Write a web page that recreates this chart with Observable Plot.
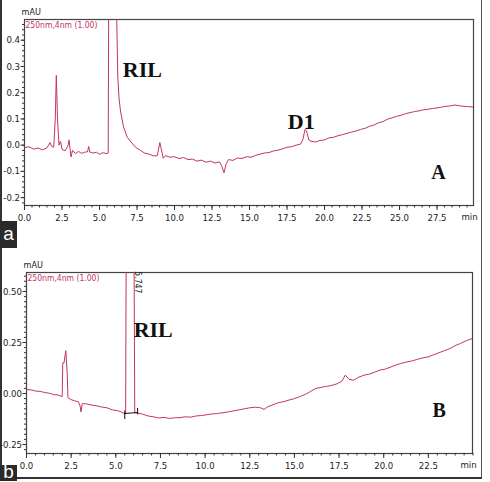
<!DOCTYPE html>
<html>
<head>
<meta charset="utf-8">
<script src="https://cdn.jsdelivr.net/npm/d3@7"></script>
<script src="https://cdn.jsdelivr.net/npm/@observablehq/plot@0.6"></script>
<style>
  html, body { margin: 0; padding: 0; background: #fff; }
  #page { position: relative; width: 490px; height: 482px; overflow: hidden; background: #fff; }
  #outline { position: absolute; left: 0; top: -2px; width: 482px; height: 481px;
             border-left: 2px solid #333; border-right: 1px solid #555; border-bottom: 2px solid #333; box-sizing: border-box; }
  .panel { position: absolute; left: 0; }
  .tag { position: absolute; left: 0; width: 17px; background: #2a2a2a; color: #fff;
         font: 19px "Liberation Sans", Arial, sans-serif; text-align: center; }
  svg text { font-stretch: condensed; }
</style>
</head>
<body>
<div id="page">
  <div id="outline"></div>
  <div id="panelA" class="panel" style="top:0px"></div>
  <div id="panelB" class="panel" style="top:250px"></div>
  <div class="tag" style="top:221px;height:27px;line-height:25px">a</div>
  <div class="tag" style="top:465px;height:16px;line-height:14px">b</div>
</div>
<script>
// Chromatogram A: time (min) and absorbance (mAU)
const timeA = [0.0, 0.3, 0.6, 0.9, 1.2, 1.5, 1.7, 1.8, 1.95, 2.05, 2.12, 2.2, 2.3, 2.4, 2.5, 2.7, 2.9, 2.97, 3.05, 3.1, 3.2, 3.4, 3.6, 3.8, 4.0, 4.2, 4.28, 4.35, 4.6, 4.8, 5.0, 5.2, 5.5, 5.58, 5.62, 6.1, 6.15, 6.22, 6.3, 6.4, 6.6, 6.85, 7.1, 7.4, 7.73, 8.0, 8.3, 8.6, 8.85, 8.95, 9.02, 9.1, 9.25, 9.4, 9.7, 10.0, 10.3, 10.6, 10.9, 11.2, 11.5, 11.8, 12.1, 12.4, 12.7, 13.0, 13.15, 13.3, 13.45, 13.6, 13.9, 14.2, 14.5, 14.8, 15.1, 15.4, 15.7, 16.0, 16.3, 16.6, 16.9, 17.2, 17.5, 17.8, 18.1, 18.4, 18.55, 18.7, 18.8, 18.95, 19.1, 19.4, 19.7, 20.0, 20.3, 20.6, 20.9, 21.2, 21.5, 21.8, 22.1, 22.4, 22.7, 23.0, 23.3, 23.6, 23.9, 24.2, 24.5, 24.8, 25.1, 25.4, 25.7, 26.0, 26.3, 26.6, 26.9, 27.2, 27.5, 27.8, 28.1, 28.4, 28.7, 29.0, 29.3, 29.6, 29.93];
const mauA = [-0.010, -0.006, -0.015, -0.011, -0.018, -0.010, 0.010, -0.004, -0.008, 0.10, 0.266, 0.10, 0.000, 0.015, -0.015, -0.022, -0.002, 0.020, -0.020, -0.045, -0.020, -0.032, -0.024, -0.031, -0.027, -0.025, -0.005, -0.026, -0.030, -0.027, -0.035, -0.029, -0.032, -0.030, 0.70, 0.70, 0.47, 0.26, 0.18, 0.13, 0.07, 0.03, 0.012, -0.008, -0.020, -0.030, -0.034, -0.041, -0.040, -0.012, 0.010, -0.010, -0.050, -0.040, -0.046, -0.044, -0.051, -0.047, -0.055, -0.053, -0.061, -0.057, -0.065, -0.061, -0.068, -0.064, -0.080, -0.105, -0.070, -0.055, -0.058, -0.049, -0.051, -0.044, -0.046, -0.039, -0.034, -0.030, -0.028, -0.022, -0.019, -0.014, -0.008, -0.006, 0.000, 0.004, 0.020, 0.060, 0.055, 0.020, 0.015, 0.012, 0.018, 0.020, 0.028, 0.030, 0.036, 0.040, 0.045, 0.050, 0.054, 0.060, 0.064, 0.072, 0.077, 0.085, 0.090, 0.099, 0.104, 0.110, 0.114, 0.120, 0.124, 0.128, 0.131, 0.135, 0.137, 0.140, 0.142, 0.145, 0.148, 0.150, 0.153, 0.150, 0.148, 0.147, 0.145];

// Chromatogram B
const timeB = [0.0, 0.3, 0.5, 0.8, 1.0, 1.3, 1.5, 1.8, 2.0, 2.03, 2.1, 2.2, 2.28, 2.32, 2.5, 2.7, 2.9, 3.0, 3.05, 3.12, 3.3, 3.6, 3.9, 4.2, 4.5, 4.8, 5.1, 5.3, 5.5, 5.55, 5.58, 6.02, 6.06, 6.2, 6.5, 6.8, 7.1, 7.4, 7.7, 8.0, 8.3, 8.6, 8.9, 9.2, 9.5, 9.8, 10.1, 10.4, 10.7, 11.0, 11.3, 11.6, 11.9, 12.2, 12.5, 12.8, 13.1, 13.3, 13.5, 13.8, 14.1, 14.4, 14.7, 15.0, 15.3, 15.6, 15.9, 16.2, 16.5, 16.8, 17.1, 17.4, 17.65, 17.85, 18.05, 18.3, 18.6, 18.9, 19.2, 19.5, 19.8, 20.1, 20.4, 20.7, 21.0, 21.3, 21.6, 21.9, 22.2, 22.5, 22.8, 23.1, 23.4, 23.7, 24.0, 24.3, 24.6, 24.97];
const mauB = [0.020, 0.017, 0.012, 0.010, 0.005, 0.001, -0.005, -0.008, -0.015, 0.150, 0.150, 0.210, 0.100, -0.020, -0.030, -0.036, -0.040, -0.060, -0.090, -0.050, -0.050, -0.056, -0.060, -0.066, -0.070, -0.080, -0.084, -0.090, -0.100, -0.100, 0.70, 0.70, -0.095, -0.095, -0.101, -0.110, -0.114, -0.120, -0.117, -0.122, -0.119, -0.118, -0.114, -0.116, -0.110, -0.108, -0.104, -0.100, -0.098, -0.094, -0.090, -0.085, -0.080, -0.075, -0.070, -0.067, -0.070, -0.078, -0.065, -0.055, -0.045, -0.040, -0.032, -0.025, -0.015, -0.005, 0.010, 0.025, 0.030, 0.035, 0.040, 0.048, 0.060, 0.090, 0.070, 0.065, 0.080, 0.090, 0.095, 0.105, 0.115, 0.120, 0.130, 0.140, 0.148, 0.155, 0.160, 0.168, 0.175, 0.180, 0.190, 0.200, 0.210, 0.220, 0.235, 0.245, 0.258, 0.270];

// Axis ticks
const ticksXA = d3.range(0, 30, 2.5);
const minorXA = d3.range(0, 30, 0.5);
const ticksYA = [-0.2, -0.1, 0.0, 0.1, 0.2, 0.3, 0.4];
const minorYA = d3.range(-0.22, 0.48, 0.02);
const ticksXB = d3.range(0, 25, 2.5);
const minorXB = d3.range(0, 25.01, 0.5);
const ticksYB = [-0.25, 0.0, 0.25, 0.5];
const minorYB = d3.range(-0.275, 0.59, 0.025);

// Peak annotations
const peaksA = [{t: 6.55, v: 0.285, name: "RIL"}, {t: 17.55, v: 0.087, name: "D1"}];
const peaksB = [{t: 6.0, v: 0.31, name: "RIL"}];
const retentionB = [{t: 6.22, v: 0.545, label: "5.747"}];
const baselineB = [{t1: 5.5, v1: -0.098, t2: 6.22, v2: -0.093}];

const trace = "#c4345f";
const tickFont = '"Liberation Sans Narrow", "DejaVu Sans Condensed", "Arial Narrow", sans-serif';
const serif = '"Liberation Serif", "DejaVu Serif", serif';

function chromatogram({time, mau, xDomain, yDomain, ticksX, minorX, ticksY, minorY, yFmt,
                       width, height, margins, peaks, panel, extra = []}) {
  const rows = time.map((t, i) => ({t, v: mau[i]}));
  return Plot.plot({
    width, height, ...margins,
    style: {background: "transparent", fontFamily: tickFont, color: "#222"},
    x: {domain: xDomain},
    y: {domain: yDomain},
    marks: [
      Plot.frame({stroke: "#444", strokeWidth: 1.2}),
      Plot.axisX(minorX, {tickSize: 2.5, tickFormat: () => "", label: null, stroke: "#333"}),
      Plot.axisX(ticksX, {tickSize: 5, tickPadding: 4, fontSize: 9.5, label: null, stroke: "#333",
                          tickFormat: d => d.toFixed(1)}),
      Plot.axisY(minorY, {tickSize: 2, tickFormat: () => "", label: null, stroke: "#333"}),
      Plot.axisY(ticksY, {tickSize: 3.5, tickPadding: 1, fontSize: 9.5, label: null, stroke: "#333",
                          tickFormat: yFmt}),
      Plot.text(["min"], {x: xDomain[1], frameAnchor: "bottom", dy: 14, dx: -4, textAnchor: "middle",
                          fontSize: 9.5, fill: "#222"}),
      Plot.text(["mAU"], {frameAnchor: "top-left", dx: -3, dy: -5, lineAnchor: "bottom",
                          textAnchor: "start", fontSize: 9, fill: "#222"}),
      Plot.text(["250nm,4nm (1.00)"], {frameAnchor: "top-left", dx: 1, dy: 2, lineAnchor: "top",
                          textAnchor: "start", fontSize: 8.5, fill: trace}),
      Plot.line(rows, {x: "t", y: "v", stroke: trace, strokeWidth: 1, clip: true}),
      ...extra,
      Plot.text(peaks, {x: "t", y: "v", text: "name", textAnchor: "start", fontFamily: serif,
                        fontWeight: "bold", fontSize: 22, fill: "#111"}),
      Plot.text([panel], {x: panel.t, y: panel.v, text: d => d.name, textAnchor: "middle",
                        fontFamily: serif, fontWeight: "bold", fontSize: 20, fill: "#111"})
    ]
  });
}

document.getElementById("panelA").append(chromatogram({
  time: timeA, mau: mauA, xDomain: [0, 29.93], yDomain: [-0.23, 0.479],
  ticksX: ticksXA, minorX: minorXA, ticksY: ticksYA, minorY: minorYA, yFmt: d => d.toFixed(1),
  width: 490, height: 240,
  margins: {marginLeft: 24, marginTop: 19, marginRight: 17, marginBottom: 35},
  peaks: peaksA, panel: {t: 27.6, v: -0.106, name: "A"}
}));

document.getElementById("panelB").append(chromatogram({
  time: timeB, mau: mauB, xDomain: [0, 24.97], yDomain: [-0.294, 0.593],
  ticksX: ticksXB, minorX: minorXB, ticksY: ticksYB, minorY: minorYB, yFmt: d => d.toFixed(2),
  width: 490, height: 232,
  margins: {marginLeft: 26, marginTop: 22, marginRight: 18, marginBottom: 29},
  peaks: peaksB, panel: {t: 23.1, v: -0.083, name: "B"},
  extra: [
    Plot.link(baselineB, {x1: "t1", y1: "v1", x2: "t2", y2: "v2", stroke: "#111", strokeWidth: 1}),
    Plot.ruleX(baselineB, {x: "t1", y1: d => d.v1 + 0.012, y2: d => d.v1 - 0.03, stroke: "#111", strokeWidth: 1}),
    Plot.ruleX(baselineB, {x: "t2", y1: d => d.v2 + 0.02, y2: d => d.v2 - 0.012, stroke: "#111", strokeWidth: 1}),
    Plot.text(retentionB, {x: "t", y: "v", text: "label", rotate: 90, textAnchor: "middle",
                           fontSize: 8.5, fill: "#222"})
  ]
}));
</script>
</body>
</html>
